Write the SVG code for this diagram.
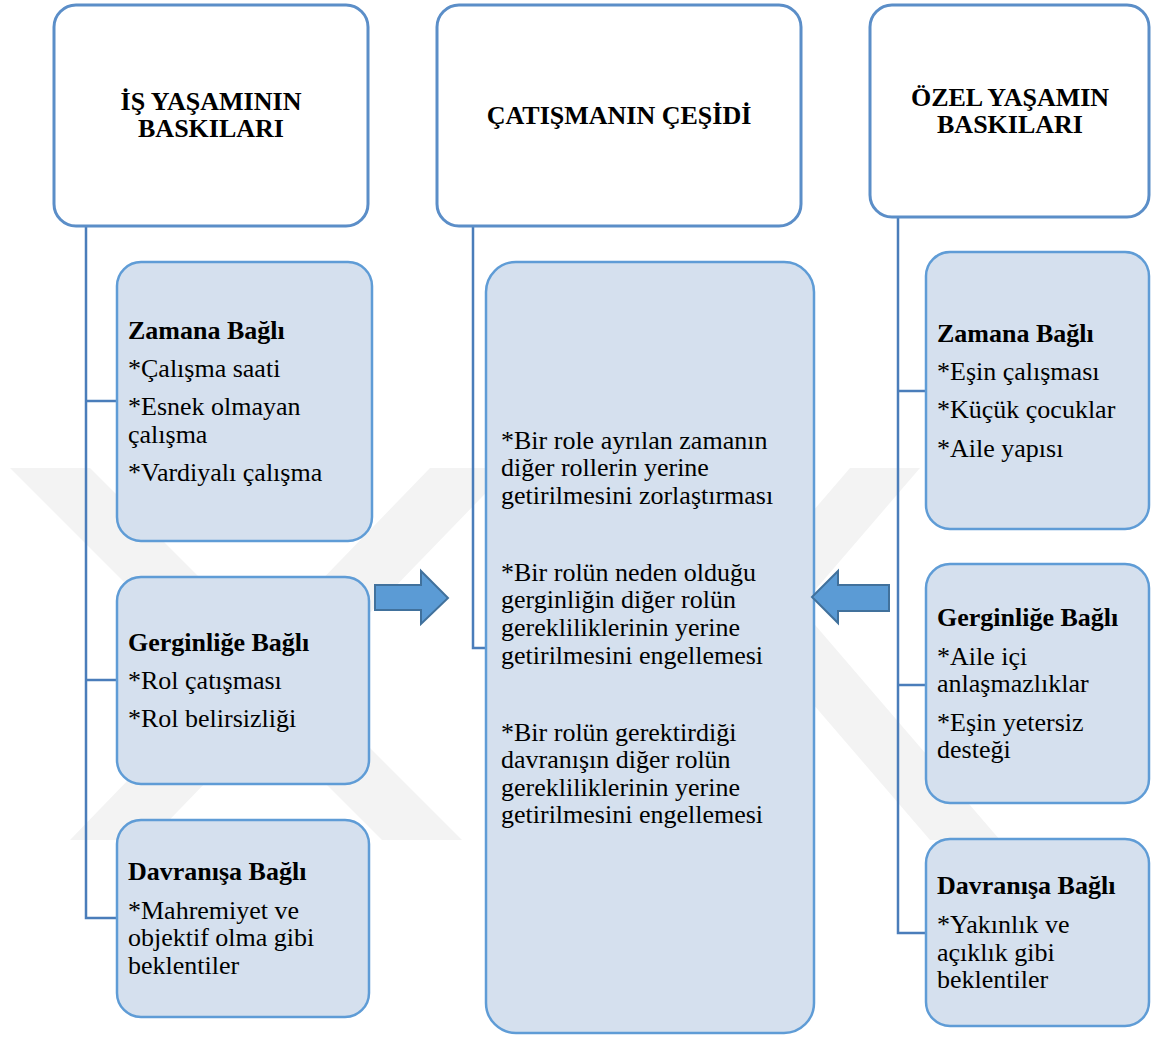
<svg xmlns="http://www.w3.org/2000/svg" width="1152" height="1037" viewBox="0 0 1152 1037">
<style>
  .hdr { fill: #ffffff; stroke: #5b8ec8; stroke-width: 3; }
  .box { fill: #d5e0ee; stroke: #5f9cd6; stroke-width: 2.5; }
  .conn { fill: none; stroke: #4a7dba; stroke-width: 2.5; }
  .arrow { fill: #5b9bd5; stroke: #41719c; stroke-width: 2; }
  .wm { fill: #f3f3f3; }
  text { font-family: "Liberation Serif", "Times New Roman", serif; font-size: 26px; fill: #000; }
  .h { font-weight: bold; text-anchor: middle; }
  .b { font-weight: bold; }
</style>
<rect x="0" y="0" width="1152" height="1037" fill="#ffffff"/>
<g id="watermark">
  <polygon class="wm" points="10,468 90,468 462,840 382,840"/>
  <polygon class="wm" points="430,468 510,468 150,840 70,840"/>
  <polygon class="wm" points="610,468 680,468 1000,840 930,840"/>
  <polygon class="wm" points="850,468 920,468 600,840 530,840"/>
</g>
<g id="connectors">
  <polyline class="conn" points="86,226 86,918 117,918"/>
  <line class="conn" x1="86" y1="401" x2="117" y2="401"/>
  <line class="conn" x1="86" y1="680" x2="117" y2="680"/>
  <polyline class="conn" points="473,226 473,648 487,648"/>
  <polyline class="conn" points="898,217 898,933 926,933"/>
  <line class="conn" x1="898" y1="391" x2="926" y2="391"/>
  <line class="conn" x1="898" y1="685" x2="926" y2="685"/>
</g>
<g id="hdr-left">
  <rect class="hdr" x="54" y="5" width="314" height="221" rx="22"/>
  <text class="h" x="211" y="110">İŞ YAŞAMININ</text>
  <text class="h" x="211" y="137">BASKILARI</text>
</g>
<g id="hdr-mid">
  <rect class="hdr" x="437" y="5" width="364" height="221" rx="22"/>
  <text class="h" x="619" y="124">ÇATIŞMANIN ÇEŞİDİ</text>
</g>
<g id="hdr-right">
  <rect class="hdr" x="870" y="5" width="279" height="212" rx="22"/>
  <text class="h" x="1010" y="106">ÖZEL YAŞAMIN</text>
  <text class="h" x="1010" y="133">BASKILARI</text>
</g>
<g id="left-time">
  <rect class="box" x="117" y="262" width="255" height="279" rx="24"/>
  <text class="b" x="128" y="339">Zamana Bağlı</text>
  <text x="128" y="377">*Çalışma saati</text>
  <text x="128" y="415">*Esnek olmayan</text>
  <text x="128" y="443">çalışma</text>
  <text x="128" y="481">*Vardiyalı çalışma</text>
</g>
<g id="left-strain">
  <rect class="box" x="117" y="577" width="252" height="207" rx="24"/>
  <text class="b" x="128" y="651">Gerginliğe Bağlı</text>
  <text x="128" y="689">*Rol çatışması</text>
  <text x="128" y="727">*Rol belirsizliği</text>
</g>
<g id="left-behavior">
  <rect class="box" x="117" y="820" width="252" height="197" rx="24"/>
  <text class="b" x="128" y="880">Davranışa Bağlı</text>
  <text x="128" y="919">*Mahremiyet ve</text>
  <text x="128" y="946">objektif olma gibi</text>
  <text x="128" y="974">beklentiler</text>
</g>
<g id="mid-types">
  <rect class="box" x="486" y="262" width="328" height="771" rx="30"/>
  <text x="501" y="449">*Bir role ayrılan zamanın</text>
  <text x="501" y="476">diğer rollerin yerine</text>
  <text x="501" y="504">getirilmesini zorlaştırması</text>
  <text x="501" y="581">*Bir rolün neden olduğu</text>
  <text x="501" y="608">gerginliğin diğer rolün</text>
  <text x="501" y="636">gerekliliklerinin yerine</text>
  <text x="501" y="664">getirilmesini engellemesi</text>
  <text x="501" y="741">*Bir rolün gerektirdiği</text>
  <text x="501" y="768">davranışın diğer rolün</text>
  <text x="501" y="796">gerekliliklerinin yerine</text>
  <text x="501" y="823">getirilmesini engellemesi</text>
</g>
<g id="right-time">
  <rect class="box" x="926" y="252" width="223" height="277" rx="24"/>
  <text class="b" x="937" y="342">Zamana Bağlı</text>
  <text x="937" y="380">*Eşin çalışması</text>
  <text x="937" y="418">*Küçük çocuklar</text>
  <text x="937" y="457">*Aile yapısı</text>
</g>
<g id="right-strain">
  <rect class="box" x="926" y="564" width="223" height="239" rx="24"/>
  <text class="b" x="937" y="626">Gerginliğe Bağlı</text>
  <text x="937" y="665">*Aile içi</text>
  <text x="937" y="692">anlaşmazlıklar</text>
  <text x="937" y="731">*Eşin yetersiz</text>
  <text x="937" y="758">desteği</text>
</g>
<g id="right-behavior">
  <rect class="box" x="926" y="839" width="223" height="187" rx="24"/>
  <text class="b" x="937" y="894">Davranışa Bağlı</text>
  <text x="937" y="933">*Yakınlık ve</text>
  <text x="937" y="961">açıklık gibi</text>
  <text x="937" y="988">beklentiler</text>
</g>
<g id="arrow-right">
  <polygon class="arrow" points="375,585 421,585 421,571 448,598 421,624 421,610 375,610"/>
</g>
<g id="arrow-left">
  <polygon class="arrow" points="889,585 838,585 838,571 812,597 838,623 838,611 889,611"/>
</g>
</svg>
